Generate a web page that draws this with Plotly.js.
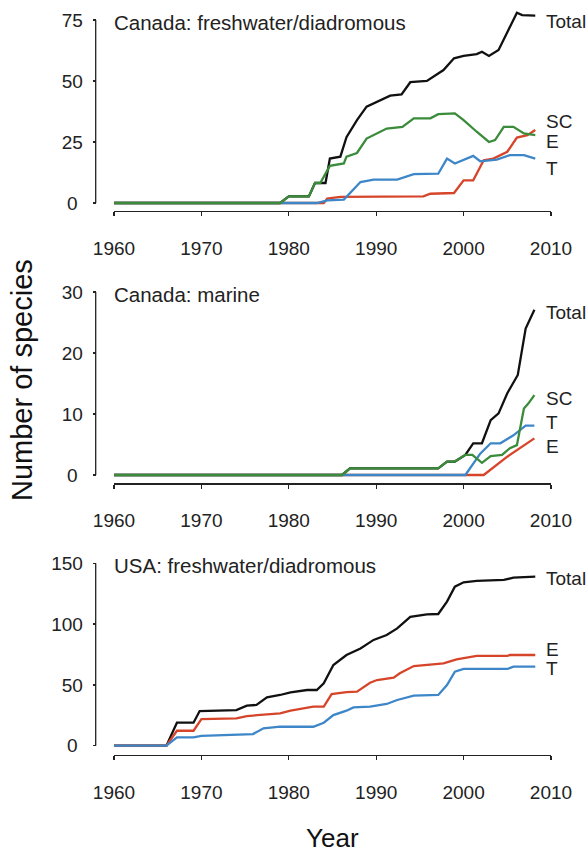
<!DOCTYPE html>
<html>
<head>
<meta charset="utf-8">
<script src="https://cdn.plot.ly/plotly-3.0.1.min.js"></script>
<style>html,body{margin:0;padding:0;background:#fff;}#chart{width:587px;height:852px;}</style>
</head>
<body>
<div id="chart"></div>
<script>
// ---------- Data ----------
// Panel 1: Canada freshwater/diadromous
const cfTotalYear = [1960,1979,1980,1982.3,1983,1984.2,1984.7,1985.9,1986.6,1987.8,1988.9,1990.1,1991.6,1992.9,1993.9,1995.8,1997.7,1998.9,2000,2001.5,2002.1,2002.9,2004,2005,2006.1,2006.7,2008.2];
const cfTotalVal  = [0,0,2.7,2.7,8.2,8.2,18.2,19,27,34,39.5,41.5,44,44.5,49.5,50,54.5,59.3,60.3,61,62,60.3,62.7,70,78,77,76.8];
const cfSCYear = [1960,1979,1980,1982.3,1983,1983.6,1984.7,1986.3,1986.6,1987.8,1988.9,1990,1991.2,1993,1994.3,1996.2,1997.1,1999,2000,2001.5,2002.9,2003.6,2004.6,2005.7,2006.9,2008.2];
const cfSCVal  = [0,0,2.7,2.7,8.2,8.2,15.2,16.2,19,20.5,26.4,28.5,30.5,31.2,34.7,34.7,36.4,36.7,34,29.2,25,25.8,31.2,31.2,28.5,27.8];
const cfTYear = [1960,1983.2,1984.4,1986.3,1988.2,1989.7,1992.4,1994.3,1997.1,1998.1,1999,1999.9,2001.1,2001.9,2003.8,2005.3,2006.9,2008.2];
const cfTVal  = [0,0,1.1,1.4,8.6,9.6,9.6,11.8,12,18.2,16.2,17.5,19.3,17.1,17.8,19.6,19.6,18.2];
const cfEYear = [1960,1984,1984.4,1985.9,1995.4,1996.2,1998.9,2000,2001.1,2002.3,2003.4,2005,2006.1,2007.3,2008.2];
const cfEVal  = [0,0,1.8,2.5,2.7,3.8,4.1,9.3,9.3,17.5,18.2,21,26.8,27.8,29.9];

// Panel 2: Canada marine
const cmTotalYear = [1960,1986.1,1987,1997.1,1998.1,1999,2000.2,2001.1,2002.1,2003.1,2004,2005,2006.2,2007.1,2008.1];
const cmTotalVal  = [0,0,1.1,1.1,2.2,2.2,3.3,5.2,5.2,9,10.1,13.4,16.4,24,27.1];
const cmSCYear = [1960,1986.1,1987,1997.1,1998.1,1999,2000.2,2001,2002.1,2003.1,2004.4,2005.3,2006.1,2006.9,2007.4,2008.1];
const cmSCVal  = [0,0,1.1,1.1,2.2,2.2,3.3,3.3,2,3.1,3.3,4.4,4.9,10.9,11.7,13.1];
const cmTYear = [1960,2000.2,2001.9,2003.1,2004.2,2005.7,2007.1,2008.1];
const cmTVal  = [0,0,3.5,5.2,5.2,6.5,8.1,8.1];
const cmEYear = [1960,2002.3,2005,2008.1];
const cmEVal  = [0,0,3,6];

// Panel 3: USA freshwater/diadromous
const usTotalYear = [1960,1966,1967.2,1969.1,1969.8,1974,1975.2,1976.3,1977.5,1979,1980.2,1982.1,1983.2,1984,1985.1,1986.6,1988.2,1989.7,1991.2,1992.4,1993.9,1995.8,1997.1,1998.1,1999,2000,2001.5,2004.6,2005.7,2008.2];
const usTotalVal  = [0,0,18.9,18.9,28.5,29.3,32.9,33.5,39.8,41.7,43.9,45.8,45.8,51.3,66.4,74.6,80,87,91,96.5,106,108,108.3,118.5,130.8,134.4,135.5,136.3,138.2,139];
const usEYear = [1960,1966,1967.2,1969.1,1970,1974,1975.2,1979,1980.2,1982.8,1984,1984.9,1986.6,1987.8,1989.3,1990.1,1992,1992.7,1994.3,1996.2,1997.7,1999.2,2000.4,2001.5,2005,2005.3,2008.2];
const usEVal  = [0,0,12.3,12.3,21.9,22.5,24.4,26.6,28.8,32.1,32.1,42.5,44.1,44.4,51.8,54,55.9,59.5,65.5,66.4,67.7,71,72.7,73.8,73.8,74.6,74.6];
const usTYear = [1960,1966,1967.2,1969.1,1970,1974,1975.9,1977.1,1979,1982.8,1984,1985.1,1986.6,1987.4,1989.3,1991.2,1992.4,1994.3,1997.1,1998.1,1999,2000,2005,2005.7,2008.2];
const usTVal  = [0,0,6.9,6.9,8,8.8,9.6,14.3,15.6,15.6,18.9,25.2,28.8,31.5,32.1,34.3,37.6,41.1,41.7,49.9,60.9,63.1,63.1,65,65];

// Axis ticks and labels
const xTickVals = [1960,1970,1980,1990,2000,2010];
const xTickText = ['1960','1970','1980','1990','2000','2010'];
const y1TickVals = [0,25,50,75];
const y1TickText = ['0\u00a0','25','50','75'];
const y2TickVals = [0,10,20,30];
const y2TickText = ['0\u00a0','10','20','30'];
const y3TickVals = [0,50,100,150];
const y3TickText = ['0\u00a0','50','100','150'];

const panelTitles = ['Canada: freshwater/diadromous','Canada: marine','USA: freshwater/diadromous'];

// ---------- Styling ----------
const FONT = 'Liberation Sans, Arial, sans-serif';
const C = {Total:'#111111', E:'#d6452a', T:'#3d86c8', SC:'#3a8c3a'};
const LW = 2.3;
const W = 587, H = 852;
const px = v => v / W;
const py = v => 1 - v / H;

function tr(x, y, color, xa, ya) {
  return {x:x, y:y, type:'scatter', mode:'lines', line:{color:color, width:LW},
          xaxis:xa, yaxis:ya, hoverinfo:'skip'};
}

// draw order: Total, E, T, SC (SC on top)
const data = [
  tr(cfTotalYear, cfTotalVal, C.Total, 'x', 'y'),
  tr(cfEYear, cfEVal, C.E, 'x', 'y'),
  tr(cfTYear, cfTVal, C.T, 'x', 'y'),
  tr(cfSCYear, cfSCVal, C.SC, 'x', 'y'),
  tr(cmTotalYear, cmTotalVal, C.Total, 'x2', 'y2'),
  tr(cmEYear, cmEVal, C.E, 'x2', 'y2'),
  tr(cmTYear, cmTVal, C.T, 'x2', 'y2'),
  tr(cmSCYear, cmSCVal, C.SC, 'x2', 'y2'),
  tr(usTotalYear, usTotalVal, C.Total, 'x3', 'y3'),
  tr(usEYear, usEVal, C.E, 'x3', 'y3'),
  tr(usTYear, usTVal, C.T, 'x3', 'y3')
];

const xDomain = [px(114), px(551)];
const axisColor = '#222222';
function xAxis(posPx) {
  return {domain:xDomain, range:[1960,2010], anchor:'free', position:py(posPx),
          showline:true, linecolor:axisColor, linewidth:1.3, ticks:'outside', ticklen:4,
          tickcolor:axisColor, tickwidth:1.3, tickvals:xTickVals, ticktext:xTickText,
          tickfont:{family:FONT, size:19, color:'#222'}, ticklabelstandoff:16,
          showgrid:false, zeroline:false, fixedrange:true};
}
function yAxis(domPx, range, tv, tt) {
  return {domain:[py(domPx[0]), py(domPx[1])], range:range, anchor:'free', position:px(95.7),
          showline:false, ticks:'outside', ticklen:3, tickcolor:axisColor, tickwidth:1.3,
          tickvals:tv, ticktext:tt, tickfont:{family:FONT, size:19, color:'#222'},
          ticklabelstandoff:6, showgrid:false, zeroline:false, fixedrange:true};
}

// pixel geometry: panel1 0->203, 75->20 ; panel2 0->475, 30->292 ; panel3 0->745.7, 150->563.3
function domFor(v0px, vTopPx, vTop, lo, hi) {
  const k = (v0px - vTopPx) / vTop;
  return [v0px - lo * k, v0px - hi * k];
}
const r1 = [-2, 80], r2 = [-0.8, 31], r3 = [-4, 155];
const d1 = domFor(203, 20, 75, r1[0], r1[1]);
const d2 = domFor(475, 292, 30, r2[0], r2[1]);
const d3 = domFor(745.7, 563.3, 150, r3[0], r3[1]);

function yLine(yref, top) {
  return {type:'line', xref:'paper', yref:yref, x0:px(95.7), x1:px(95.7), y0:0, y1:top,
          line:{color:axisColor, width:1.3}};
}

function label(text, xref, yref, x, y, color) {
  return {text:text, xref:xref, yref:yref, x:x, y:y, xanchor:'left', yanchor:'middle',
          showarrow:false, font:{family:FONT, size:19, color:color || '#222'}};
}
function ptitle(text, yPx) {
  return {text:text, xref:'paper', yref:'paper', x:px(112), y:py(yPx), xanchor:'left', yanchor:'middle',
          showarrow:false, font:{family:FONT, size:20.5, color:'#222'}};
}

const layout = {
  width:W, height:H, margin:{l:0, r:0, t:0, b:0}, paper_bgcolor:'#fff', plot_bgcolor:'rgba(0,0,0,0)',
  showlegend:false,
  xaxis: xAxis(211), xaxis2: xAxis(483.3), xaxis3: xAxis(755),
  yaxis: yAxis(d1, r1, y1TickVals, y1TickText),
  yaxis2: yAxis(d2, r2, y2TickVals, y2TickText),
  yaxis3: yAxis(d3, r3, y3TickVals, y3TickText),
  shapes:[yLine('y', 75), yLine('y2', 30), yLine('y3', 150)],
  annotations:[
    ptitle(panelTitles[0], 22),
    ptitle(panelTitles[1], 294),
    ptitle(panelTitles[2], 565),
    label('Total', 'x', 'y', 2009.2, 74.2),
    label('SC', 'x', 'y', 2009.2, 33.2),
    label('E', 'x', 'y', 2009.2, 25.4),
    label('T', 'x', 'y', 2009.2, 14.1),
    label('Total', 'x2', 'y2', 2009.2, 26.7),
    label('SC', 'x2', 'y2', 2009.2, 12.6),
    label('T', 'x2', 'y2', 2009.2, 8.6),
    label('E', 'x2', 'y2', 2009.2, 4.6),
    label('Total', 'x3', 'y3', 2009.2, 137.7),
    label('E', 'x3', 'y3', 2009.2, 78.7),
    label('T', 'x3', 'y3', 2009.2, 63.7),
    {text:'Number of species', xref:'paper', yref:'paper', x:px(22), y:py(380), textangle:-90,
     xanchor:'center', yanchor:'middle', showarrow:false, font:{family:FONT, size:29, color:'#111'}},
    {text:'Year', xref:'paper', yref:'paper', x:px(332), y:py(838), xanchor:'center', yanchor:'middle',
     showarrow:false, font:{family:FONT, size:26, color:'#111'}}
  ]
};

Plotly.newPlot('chart', data, layout, {staticPlot:true, displayModeBar:false});
</script>
</body>
</html>
